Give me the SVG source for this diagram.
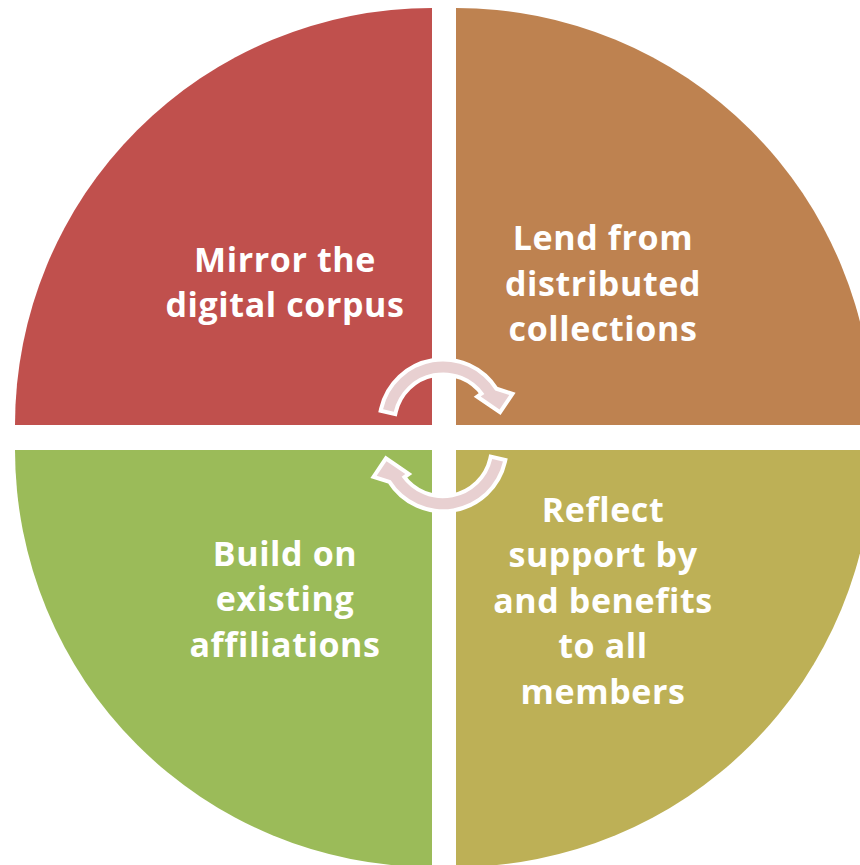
<svg xmlns="http://www.w3.org/2000/svg" width="860" height="865" viewBox="0 0 860 865">
<style>
.q{stroke:none}
.t{font-family:"Open Sans",Lato,sans-serif;font-weight:bold;font-size:34px;letter-spacing:0.6px;fill:#FFFFFF;text-anchor:middle}
.arr{fill:#E8D0D1;stroke:#FFFFFF;stroke-width:8;stroke-linejoin:miter;paint-order:stroke}
</style>
<rect width="860" height="865" fill="#FFFFFF"/>
<g id="q-tl"><path class="q" fill="#C0504D" d="M432,425 L15,425 A417,417 0 0 1 432,8 Z"/>
<text class="t" x="285" y="272">Mirror the</text><text class="t" x="285" y="317">digital corpus</text></g>
<g id="q-tr"><path class="q" fill="#BE8250" d="M456,425 L456,8 A417,417 0 0 1 873,425 Z"/>
<text class="t" x="603" y="250">Lend from</text><text class="t" x="603" y="296">distributed</text><text class="t" x="603" y="341">collections</text></g>
<g id="q-bl"><path class="q" fill="#9BBB59" d="M432,450 L432,867 A417,417 0 0 1 15,450 Z"/>
<text class="t" x="285" y="566">Build on</text><text class="t" x="285" y="611">existing</text><text class="t" x="285" y="657">affiliations</text></g>
<g id="q-br"><path class="q" fill="#BDB056" d="M456,450 L873,450 A417,417 0 0 1 456,867 Z"/>
<text class="t" x="603" y="522">Reflect</text><text class="t" x="603" y="567">support by</text><text class="t" x="603" y="613">and benefits</text><text class="t" x="603" y="658">to all</text><text class="t" x="603" y="704">members</text></g>
<g id="connectors">
<path id="arrow-top" class="arr" d="M383.07,409.16 A61.5,61.5 0 0 1 495.2,390.4 L509.3,394.9 L499.5,409.5 L480.7,396.6 L484.4,394.0 A50.5,50.5 0 0 0 393.79,411.64 Z"/>
<use href="#arrow-top" transform="rotate(180 443 435.35)"/>
</g>
</svg>
